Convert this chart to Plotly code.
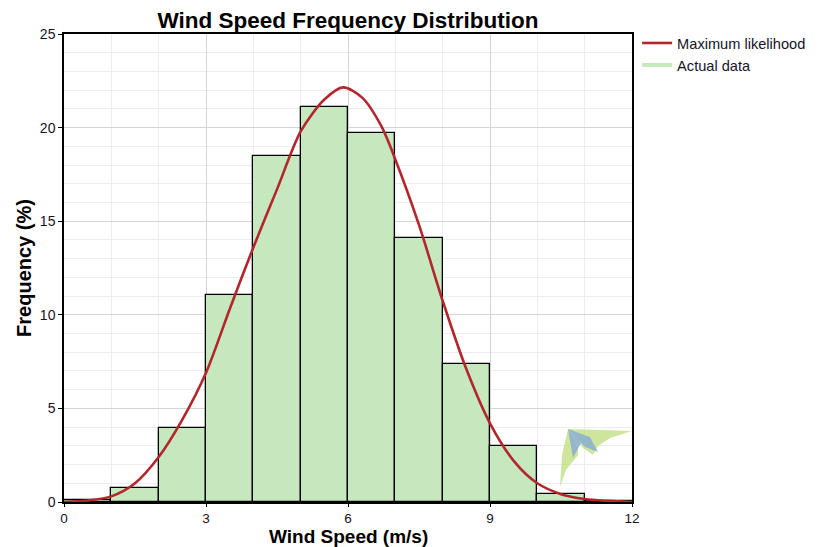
import plotly.graph_objects as go

# ---- data ----
bin_centers = [0.5, 1.5, 2.5, 3.5, 4.5, 5.5, 6.5, 7.5, 8.5, 9.5, 10.5, 11.5]
actual_freq = [0.1, 0.73, 3.97, 11.05, 18.5, 21.12, 19.72, 14.08, 7.36, 3.0, 0.42, 0.05]

ml_x = [0.0, 0.5, 1.0, 1.5, 2.0, 2.5, 3.0, 3.5, 4.0, 4.5, 5.0, 5.5, 5.9, 6.3, 6.7, 7.0,
        7.5, 8.0, 8.5, 9.0, 9.5, 10.0, 10.5, 11.0, 11.5, 12.0]
ml_y = [0.0, 0.08, 0.3, 1.0, 2.4, 4.4, 6.9, 10.3, 13.6, 16.7, 19.8, 21.5, 22.15, 21.6, 20.1, 18.3,
        14.8, 10.75, 7.1, 4.2, 2.2, 1.0, 0.42, 0.16, 0.06, 0.0]

x_ticks = [0, 3, 6, 9, 12]
y_ticks = [0, 5, 10, 15, 20, 25]

RED = "#b3262b"
GREEN = "#c6e8bf"
FONT = "Liberation Sans, Arial, sans-serif"

W, H = 810, 539   # page has an 8px body margin; keep figure inside the 818x547 window

fig = go.Figure()
fig.add_trace(go.Bar(
    x=bin_centers, y=actual_freq, width=1.0,
    marker=dict(color=GREEN, line=dict(color="black", width=1.3)),
    showlegend=False, name="Actual data",
))
fig.add_trace(go.Scatter(
    x=ml_x, y=ml_y, mode="lines", line=dict(color=RED, width=2.6, shape="spline", smoothing=0.8),
    name="Maximum likelihood",
))
fig.add_trace(go.Scatter(
    x=[None], y=[None], mode="lines", line=dict(color=GREEN, width=4),
    name="Actual data",
))

# watermark logo (page pixel -> paper)
def P(px, py):
    return (px - 64) / 568.0, (502 - py) / 468.0

def poly(pts, color, op):
    d = ""
    for i, (px, py) in enumerate(pts):
        xp, yp = P(px, py)
        d += ("M" if i == 0 else "L") + f"{xp:.4f},{yp:.4f} "
    d += "Z"
    return dict(type="path", path=d, xref="paper", yref="paper", fillcolor=color,
                opacity=op, line=dict(width=0), layer="above")

shapes = [
    poly([(568, 429), (632, 431), (610, 438), (598, 446), (593, 455), (583, 448)], "#b9db70", 0.7),
    poly([(568, 429), (578, 448), (578, 455), (566, 470), (560, 487), (562, 455)], "#b9db70", 0.7),
    poly([(568, 429), (581, 443), (573, 458)], "#8fb0cf", 0.9),
    poly([(568, 429), (590, 437), (598, 452), (585, 447)], "#8fb0cf", 0.9),
]

fig.update_layout(
    width=W, height=H,
    margin=dict(l=56, r=186, t=26, b=45, autoexpand=False),
    paper_bgcolor="white", plot_bgcolor="white",
    font=dict(family=FONT, size=14, color="#141428"),
    title=dict(text="<b>Wind Speed Frequency Distribution</b>", x=340 / W, xanchor="center",
               y=1 - 12.5 / H, yanchor="middle", font=dict(size=22.5, color="black")),
    bargap=0,
    shapes=shapes,
    annotations=[dict(text="<b>Wind Speed (m/s)</b>", xref="paper", yref="paper",
                      x=0.5, y=-46 / 468, xanchor="center", yanchor="bottom", borderpad=0,
                      showarrow=False, font=dict(size=19, color="black"))],
    legend=dict(x=1.009, y=1.015, xanchor="left", yanchor="top", bgcolor="rgba(0,0,0,0)",
                font=dict(size=14.6, color="#141428"), tracegroupgap=0, itemwidth=30),
    showlegend=True,
)
fig.update_xaxes(
    range=[0, 12], tickvals=x_ticks, ticktext=[str(v) for v in x_ticks],
    showline=True, linecolor="black", linewidth=1.5, mirror=True,
    ticks="outside", ticklen=3, tickcolor="black",
    showgrid=True, gridcolor="#d4d4d4", gridwidth=1,
    minor=dict(dtick=1, tick0=0, showgrid=True, gridcolor="#ededed", gridwidth=1, ticks=""),
    zeroline=False, automargin=False,
    tickfont=dict(size=13.5),
)
fig.update_yaxes(
    range=[0, 25], tickvals=y_ticks, ticktext=[str(v) for v in y_ticks],
    showline=True, linecolor="black", linewidth=1.5, mirror=True,
    ticks="outside", ticklen=4, tickcolor="black",
    showgrid=True, gridcolor="#d4d4d4", gridwidth=1,
    minor=dict(dtick=1, tick0=0, showgrid=True, gridcolor="#ededed", gridwidth=1, ticks=""),
    zeroline=False, automargin=False,
    title=dict(text="<b>Frequency (%)</b>", font=dict(size=20, color="black"), standoff=3),
    tickfont=dict(size=14),
)

fig.write_html("out.html")
